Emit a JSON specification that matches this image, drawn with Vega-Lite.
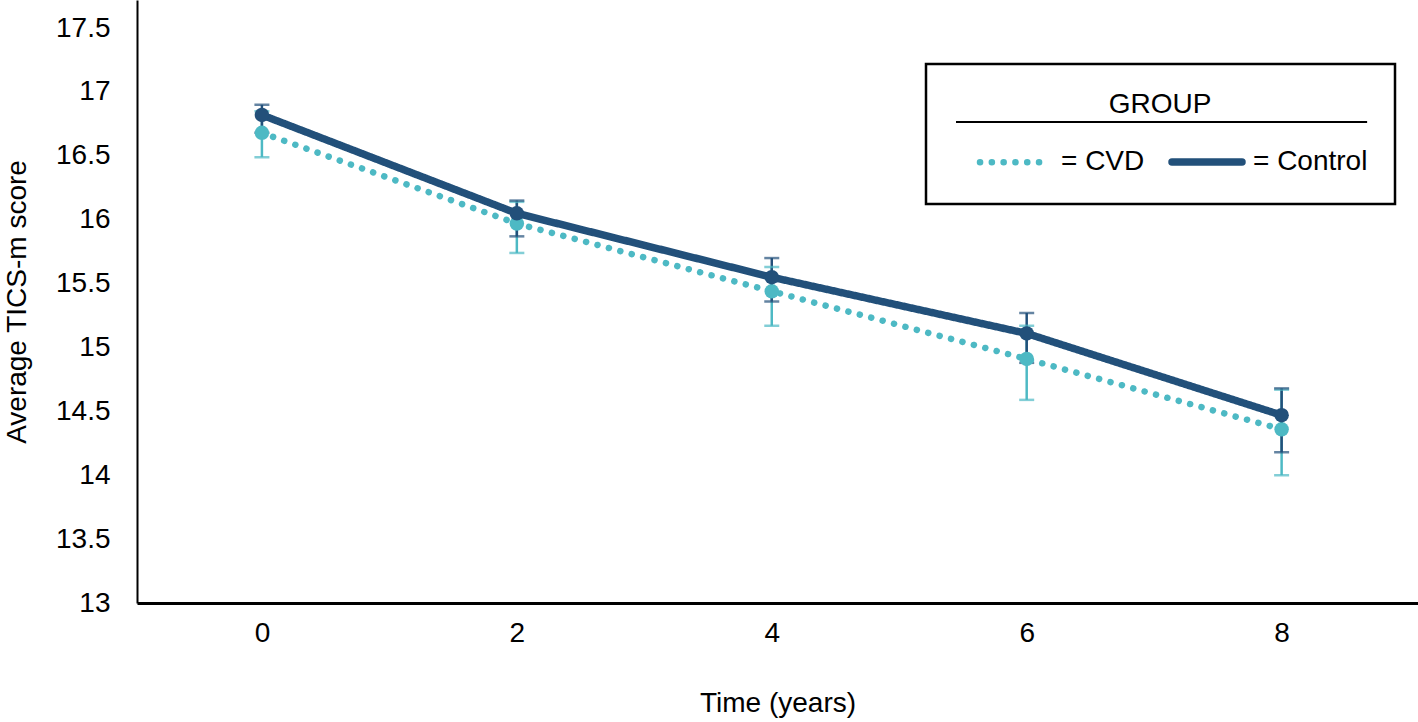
{
  "$schema": "https://vega.github.io/schema/vega-lite/v6.json",
  "width": 1281,
  "height": 603,
  "autosize": {"type": "none"},
  "padding": {"left": 137, "top": 0, "right": 0, "bottom": 119},
  "background": "white",
  "config": {
    "view": {"stroke": null},
    "font": "Liberation Sans",
    "axis": {"grid": false, "ticks": false, "labelColor": "black", "titleColor": "black", "titleFontWeight": "normal", "labelFont": "Liberation Sans", "titleFont": "Liberation Sans"}
  },
  "data": {
    "values": [
      {"time": 0, "group": "CVD", "mean": 16.68, "lo": 16.49, "hi": 16.85},
      {"time": 2, "group": "CVD", "mean": 15.97, "lo": 15.74, "hi": 16.14},
      {"time": 4, "group": "CVD", "mean": 15.44, "lo": 15.17, "hi": 15.63},
      {"time": 6, "group": "CVD", "mean": 14.91, "lo": 14.59, "hi": 15.17},
      {"time": 8, "group": "CVD", "mean": 14.36, "lo": 14.0, "hi": 14.67},
      {"time": 0, "group": "Control", "mean": 16.82, "lo": 16.68, "hi": 16.9},
      {"time": 2, "group": "Control", "mean": 16.05, "lo": 15.87, "hi": 16.15},
      {"time": 4, "group": "Control", "mean": 15.55, "lo": 15.36, "hi": 15.7},
      {"time": 6, "group": "Control", "mean": 15.11, "lo": 14.88, "hi": 15.27},
      {"time": 8, "group": "Control", "mean": 14.47, "lo": 14.18, "hi": 14.68}
    ]
  },
  "layer": [
    {
      "mark": {"type": "rule", "strokeWidth": 2, "color": "black"},
      "encoding": {
        "x": {"datum": 5.45, "type": "quantitative"},
        "x2": {"datum": 8.67},
        "y": {"datum": 16.765, "type": "quantitative"}
      }
    },
    {
      "encoding": {
        "x": {
          "field": "time", "type": "quantitative",
          "scale": {"domain": [-0.98, 9.07], "nice": false, "zero": false},
          "axis": {"values": [0, 2, 4, 6, 8], "format": "d", "title": "Time (years)", "labelFontSize": 28, "titleFontSize": 28, "labelPadding": 16, "titlePadding": 42, "domainColor": "black", "domainWidth": 3}
        },
        "color": {
          "field": "group", "type": "nominal", "title": "GROUP",
          "scale": {"domain": ["CVD", "Control"], "range": ["#4DB9C4", "#22507A"]},
          "legend": {
            "orient": "none", "legendX": 789, "legendY": 64,
            "direction": "horizontal", "columns": 2,
            "title": "GROUP", "titleFontSize": 28, "titleFontWeight": "normal", "titleAnchor": "middle", "titlePadding": 4, "titleColor": "black",
            "labelFontSize": 28, "labelColor": "black", "labelOffset": 7,
            "labelExpr": "'= ' + datum.label",
            "symbolType": "stroke", "symbolSize": 4900, "symbolOffset": 23, "symbolOpacity": 1,
            "columnPadding": 0,
            "padding": 27, "strokeColor": "black",
            "encode": {
              "symbols": {"update": {"strokeCap": {"value": "round"}, "opacity": {"value": 1}}},
              "legend": {"update": {"strokeWidth": {"value": 2.5}}}
            }
          }
        }
      },
      "layer": [
        {
          "mark": {"type": "rule", "strokeWidth": 2.5},
          "encoding": {
            "y": {"field": "lo", "type": "quantitative"},
            "y2": {"field": "hi"}
          }
        },
        {
          "mark": {"type": "tick", "orient": "horizontal", "size": 15, "thickness": 2.5},
          "encoding": {
            "y": {"field": "lo", "type": "quantitative"}
          }
        },
        {
          "mark": {"type": "tick", "orient": "horizontal", "size": 15, "thickness": 2.5},
          "encoding": {
            "y": {"field": "hi", "type": "quantitative"}
          }
        },
        {
          "mark": {"type": "line", "strokeCap": "round"},
          "encoding": {
            "y": {
              "field": "mean", "type": "quantitative",
              "scale": {"domain": [13, 17.72], "nice": false, "zero": false},
              "axis": {"values": [13, 13.5, 14, 14.5, 15, 15.5, 16, 16.5, 17, 17.5], "format": "~g", "title": "Average TICS-m score", "labelFontSize": 28, "titleFontSize": 28, "labelPadding": 27, "titlePadding": 24, "domainColor": "black", "domainWidth": 2}
            },
            "strokeDash": {
              "field": "group", "type": "nominal", "title": "GROUP",
              "scale": {"domain": ["CVD", "Control"], "range": [[0.1, 11.7], [1, 0]]}
            },
            "strokeWidth": {
              "field": "group", "type": "nominal", "title": "GROUP",
              "scale": {"domain": ["CVD", "Control"], "range": [6.5, 7.5]}
            }
          }
        },
        {
          "mark": {"type": "point", "filled": true, "opacity": 1, "size": 210},
          "encoding": {
            "y": {"field": "mean", "type": "quantitative"}
          }
        }
      ]
    }
  ]
}
